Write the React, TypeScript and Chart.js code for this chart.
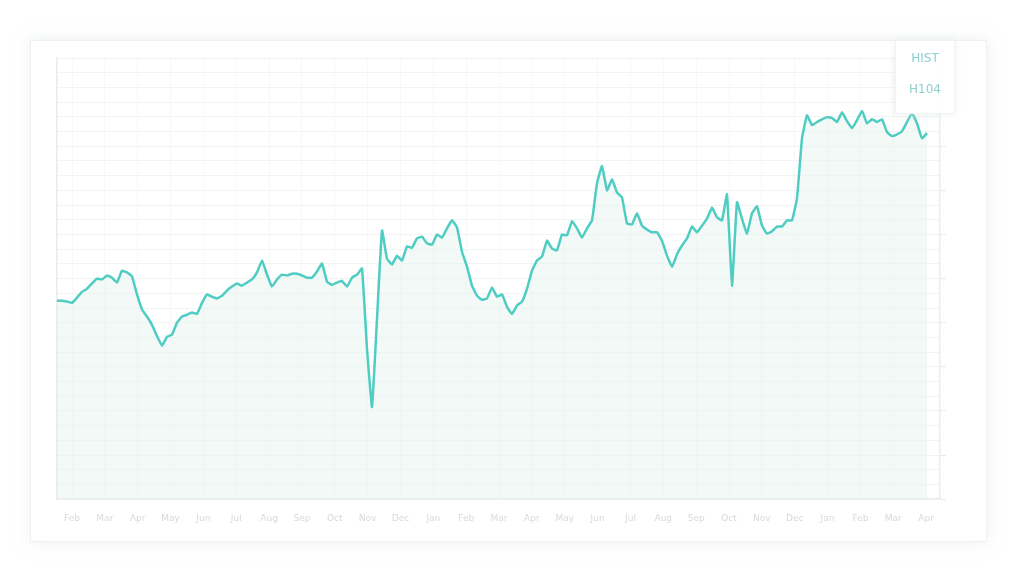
import React, { useEffect, useRef } from "react";
import { Chart, registerables } from "chart.js";

Chart.register(...registerables);

// Series values (index = sample number, roughly uniform in time)
const seriesValues: number[] = [
  45.0, 45.0, 44.8, 44.5, 45.7, 47.0, 47.7, 48.9, 50.0, 49.8,
  50.7, 50.2, 49.1, 51.8, 51.4, 50.5, 46.4, 43.0, 41.4, 39.5,
  37.0, 34.8, 36.8, 37.3, 40.0, 41.4, 41.8, 42.3, 42.0, 44.5,
  46.4, 45.9, 45.5, 46.1, 47.3, 48.2, 48.9, 48.4, 49.1, 49.8,
  51.4, 54.1, 50.9, 48.2, 49.8, 50.9, 50.7, 51.1, 51.1, 50.7,
  50.2, 50.2, 51.6, 53.4, 49.3, 48.6, 49.1, 49.5, 48.2, 50.2,
  50.9, 52.3, 34.1, 20.9, 40.9, 60.9, 54.5, 53.2, 55.2, 54.1,
  57.3, 57.0, 59.1, 59.5, 58.0, 57.7, 60.0, 59.3, 61.4, 63.2,
  61.6, 56.1, 52.7, 48.4, 46.1, 45.2, 45.5, 48.0, 45.9, 46.4,
  43.6, 42.0, 43.9, 44.8, 47.7, 51.8, 54.1, 55.0, 58.6, 56.8,
  56.4, 60.0, 59.8, 63.0, 61.4, 59.3, 61.4, 63.2, 71.6, 75.5,
  70.0, 72.5, 69.5, 68.4, 62.5, 62.3, 64.8, 62.0, 61.1, 60.5,
  60.5, 58.6, 55.2, 52.7, 55.5, 57.5, 59.1, 61.8, 60.5, 62.0,
  63.6, 66.1, 63.9, 63.2, 69.1, 48.4, 67.3, 63.6, 60.2, 64.8,
  66.4, 62.0, 60.2, 60.7, 61.8, 61.8, 63.2, 63.2, 68.2, 81.8,
  87.0, 84.8, 85.5, 86.1, 86.6, 86.4, 85.5, 87.7, 85.7, 84.1,
  85.9, 88.0, 85.2, 86.1, 85.5, 86.1, 83.2, 82.3, 82.7, 83.4,
  85.5, 87.5, 85.2, 81.8, 83.0,
];

// X tick labels (27 evenly spaced labels along the axis)
const tickLabels: string[] = [
  "Feb", "Mar", "Apr", "May", "Jun", "Jul", "Aug", "Sep", "Oct",
  "Nov", "Dec", "Jan", "Feb", "Mar", "Apr", "May", "Jun", "Jul",
  "Aug", "Sep", "Oct", "Nov", "Dec", "Jan", "Feb", "Mar", "Apr",
];
const firstLabelIndex = 3;
const labelStep = 6.57;
const xMax = 176.6;

const legendLabels: string[] = ["HIST", "H104"];

const LINE = "#4fcdc3";

export default function App() {
  const canvasRef = useRef<HTMLCanvasElement | null>(null);

  useEffect(() => {
    if (!canvasRef.current) return;
    const points = seriesValues.map((v, i) => ({ x: i, y: v }));
    const chart = new Chart(canvasRef.current, {
      type: "line",
      data: {
        datasets: [
          {
            label: legendLabels[0],
            data: points,
            borderColor: LINE,
            borderWidth: 2.5,
            pointRadius: 0,
            tension: 0.1,
            fill: "origin",
            backgroundColor: "rgba(232, 244, 240, 0.55)",
          },
        ],
      },
      options: {
        animation: false,
        responsive: true,
        maintainAspectRatio: false,
        layout: { padding: { left: 49, right: 70, top: 50, bottom: 30 } },
        plugins: {
          legend: { display: false },
          tooltip: { enabled: false },
        },
        scales: {
          x: {
            type: "linear",
            min: 0,
            max: xMax,
            afterBuildTicks: (axis: any) => {
              axis.ticks = tickLabels.map((_, j) => ({
                value: firstLabelIndex + j * labelStep,
              }));
            },
            ticks: {
              autoSkip: false,
              maxRotation: 0,
              padding: 14,
              color: "#d6dadc",
              font: { family: "DejaVu Sans", size: 9 },
              callback: (_v: any, idx: number) => tickLabels[idx] ?? "",
            },
            grid: { color: "rgba(238,242,242,0.45)", drawTicks: false },
            border: { color: "#e8ecec", width: 1.5 },
          },
          y: {
            position: "right",
            min: 0,
            max: 100,
            ticks: { display: false, stepSize: 10 },
            grid: { drawOnChartArea: false, tickLength: 6, color: "#e6ebeb" },
            border: { color: "#eaeeee", width: 1.5 },
          },
          y2: {
            position: "left",
            min: 0,
            max: 100,
            ticks: { display: false, stepSize: 10 / 3 },
            grid: { color: "rgba(236,240,240,0.7)", drawTicks: false },
            border: { color: "#e8ecec", width: 1.5 },
          },
        },
      },
    });
    return () => chart.destroy();
  }, []);

  return (
    <div style={{ position: "relative", width: 1008, height: 560, fontFamily: "DejaVu Sans, sans-serif" }}>
      <div
        style={{
          position: "absolute",
          left: 22,
          top: 32,
          width: 955,
          height: 500,
          border: "1px solid #eef1f1",
          boxShadow: "0 0 14px rgba(220,228,228,0.5)",
          background: "#ffffff",
        }}
      />
      <div style={{ position: "absolute", left: 0, top: 0, width: 1008, height: 560 }}>
        <canvas ref={canvasRef} />
      </div>
      <div
        style={{
          position: "absolute",
          left: 887,
          top: 32,
          width: 58,
          height: 72,
          background: "rgba(255,255,255,0.9)",
          border: "1px solid #f0f3f3",
          boxShadow: "0 0 8px rgba(225,232,232,0.6)",
          color: "#8fcfcc",
          fontSize: 12,
          textAlign: "center",
        }}
      >
        <div style={{ marginTop: 10 }}>{legendLabels[0]}</div>
        <div style={{ marginTop: 17 }}>{legendLabels[1]}</div>
      </div>
    </div>
  );
}
